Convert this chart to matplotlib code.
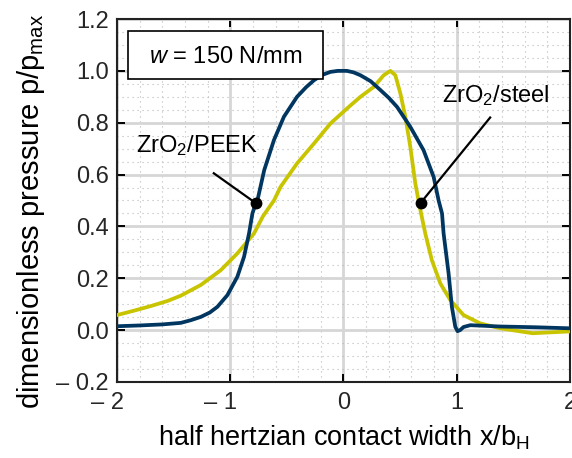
import numpy as np
import matplotlib.pyplot as plt
from matplotlib.ticker import MultipleLocator
from matplotlib.patches import Rectangle
from matplotlib.transforms import ScaledTranslation

plt.rcParams['font.family'] = ['Liberation Sans', 'DejaVu Sans']
plt.rcParams['mathtext.fontset'] = 'custom'
plt.rcParams['mathtext.rm'] = 'Liberation Sans'
plt.rcParams['mathtext.it'] = 'Liberation Sans:italic'

# ZrO2/PEEK (blau)
x_peek = [-2.0, -1.8, -1.6, -1.436, -1.35, -1.26, -1.18, -1.113, -1.025, -0.937, -0.878,
          -0.834, -0.804, -0.775, -0.76, -0.70, -0.614, -0.526, -0.41, -0.33, -0.26, -0.19,
          -0.115, -0.05, 0.03, 0.09, 0.15, 0.24, 0.326, 0.40, 0.473, 0.59, 0.707, 0.796,
          0.84, 0.87, 0.884, 0.928, 0.957, 0.987, 1.007, 1.03, 1.06, 1.12, 1.38, 1.7, 2.0]
y_peek = [0.015, 0.018, 0.022, 0.028, 0.038, 0.051, 0.068, 0.09, 0.135, 0.206, 0.283,
          0.373, 0.45, 0.489, 0.50, 0.617, 0.733, 0.823, 0.90, 0.937, 0.964, 0.984,
          0.996, 1.0, 1.0, 0.994, 0.983, 0.96, 0.926, 0.896, 0.861, 0.784, 0.694, 0.591,
          0.50, 0.45, 0.373, 0.219, 0.09, 0.013, -0.004, 0.0, 0.012, 0.019, 0.014, 0.011,
          0.007]

# ZrO2/steel (gelb)
x_steel = [-2.0, -1.85, -1.7, -1.55, -1.436, -1.26, -1.084, -0.937, -0.79, -0.71, -0.614,
           -0.555, -0.41, -0.26, -0.115, 0.047, 0.15, 0.267, 0.355, 0.414, 0.458, 0.502,
           0.546, 0.59, 0.634, 0.678, 0.722, 0.78, 0.855, 0.943, 1.06, 1.207, 1.383, 1.67,
           2.0]
y_steel = [0.058, 0.075, 0.093, 0.113, 0.133, 0.174, 0.231, 0.296, 0.373, 0.44, 0.50,
           0.553, 0.643, 0.72, 0.797, 0.861, 0.90, 0.938, 0.983, 1.0, 0.983, 0.913,
           0.823, 0.707, 0.566, 0.465, 0.373, 0.27, 0.18, 0.116, 0.058, 0.026, 0.007, -0.012,
           -0.005]

xticks = [-2, -1, 0, 1, 2]
xlabels = ['\u2013 2', '\u2013 1', '0', '1', '2']
yticks = [-0.2, 0.0, 0.2, 0.4, 0.6, 0.8, 1.0, 1.2]
ylabels = ['\u2013 0.2', '0.0', '0.2', '0.4', '0.6', '0.8', '1.0', '1.2']

fig = plt.figure(figsize=(5.72, 4.58), dpi=100)
ax = fig.add_axes([0.2045, 0.166, 0.792, 0.7925])

ax.plot(x_steel, y_steel, color='#C8C400', lw=2.7, zorder=3)
ax.plot(x_peek, y_peek, color='#003660', lw=2.7, zorder=4)

ax.set_xlim(-2, 2)
ax.set_ylim(-0.2, 1.2)
ax.set_xticks(xticks)
ax.set_xticklabels(xlabels)
ax.set_yticks(yticks)
ax.set_yticklabels(ylabels)
ax.xaxis.set_minor_locator(MultipleLocator(0.2))
ax.yaxis.set_minor_locator(MultipleLocator(0.05))
ax.tick_params(which='major', direction='in', top=True, right=True, length=6, width=1.4,
               labelsize=17, labelcolor='#262626')
ax.tick_params(axis='x', which='major', pad=7.5)
ax.tick_params(axis='y', which='major', pad=6)
ax.tick_params(which='minor', length=0)

# Ziffer mittig unter dem Tick, Minuszeichen links davon
shift = ScaledTranslation(6.6 / 100, 0, fig.dpi_scale_trans)
for lab in ax.get_xticklabels():
    lab.set_horizontalalignment('right')
    lab.set_transform(lab.get_transform() + shift)

ax.grid(which='major', color='#d6d6d6', lw=2.0)
ax.grid(which='minor', color='#b8b8b8', lw=0.8, ls=(0, (1, 3.5)))
ax.set_axisbelow(True)
for s in ax.spines.values():
    s.set_linewidth(1.5)
    s.set_color('#222222')

ax.set_xlabel('half hertzian contact width x/b$_\\mathregular{H}$', fontsize=19.5)
ax.xaxis.set_label_coords(0.5, -0.115)
ax.set_ylabel('dimensionless pressure p/p$_\\mathregular{max}$', fontsize=21)
ax.yaxis.set_label_coords(-0.155, 0.47)

# Lastangabe
ax.add_patch(Rectangle((-1.9, 0.97), 1.72, 0.185, fc='white', ec='black', lw=1.2, zorder=5))
ax.text(-1.04, 1.03, '$\\mathit{w}$ = 150 N/mm', fontsize=17, ha='center', va='baseline',
        zorder=6)

# Beschriftungen
ax.plot([-1.145, -0.775], [0.605, 0.49], color='black', lw=1.6, zorder=5)
ax.plot(-0.775, 0.49, 'o', color='black', ms=7.5, zorder=6)
ax.text(-1.833, 0.686, 'ZrO$_\\mathregular{2}$/PEEK', fontsize=17, va='baseline')

ax.plot([1.295, 0.68], [0.82, 0.49], color='black', lw=1.6, zorder=5)
ax.plot(0.68, 0.49, 'o', color='black', ms=7.5, zorder=6)
ax.text(0.872, 0.879, 'ZrO$_\\mathregular{2}$/steel', fontsize=17, va='baseline')

fig.savefig('out.png', dpi=100)
